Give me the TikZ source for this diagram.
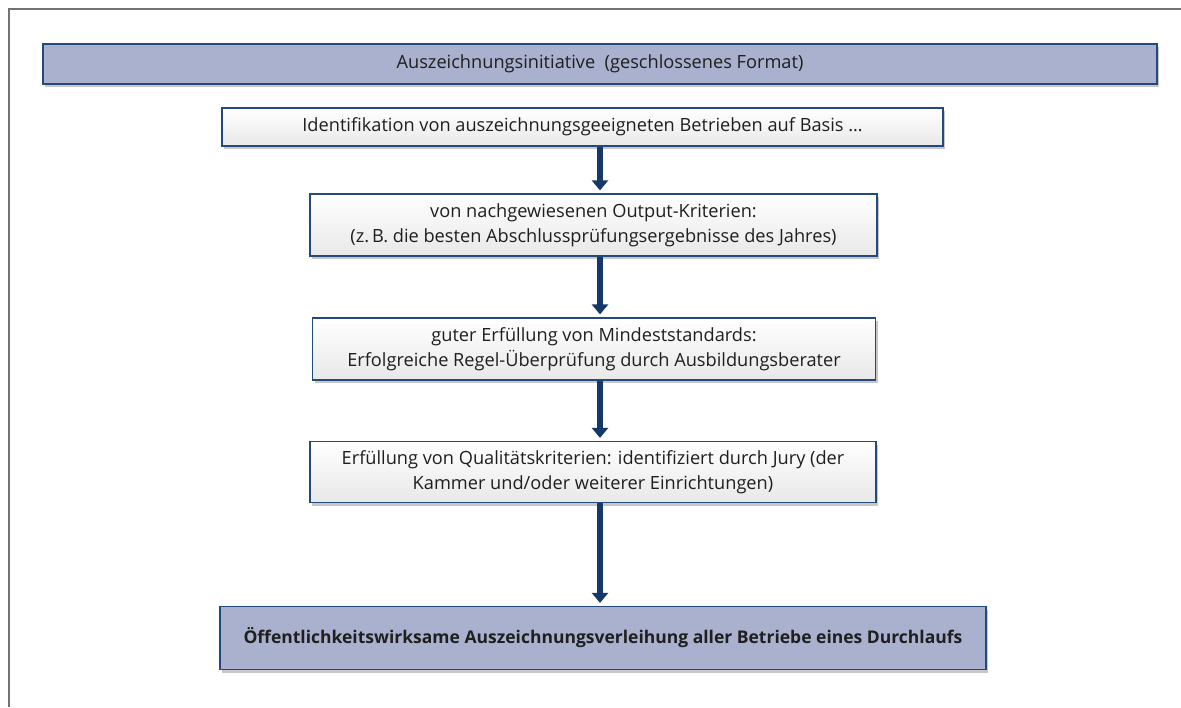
\documentclass[tikz,border=0pt]{standalone}
\usepackage{fontspec}
\setmainfont{Open Sans}
\usetikzlibrary{shadows,arrows.meta}
\definecolor{boxblue}{RGB}{170,177,206}
\definecolor{edgeblue}{RGB}{36,74,124}
\definecolor{arrowblue}{RGB}{22,56,104}
\begin{document}
\begin{tikzpicture}[x=1pt,y=1pt,
  base/.style={draw=edgeblue, line width=1.2pt, inner sep=0pt, align=center,
    font=\fontsize{18.2}{25}\selectfont, text=black!88,
    drop shadow={shadow xshift=2pt, shadow yshift=-3pt, opacity=0.22, fill=black}},
  bluebox/.style={base, fill=boxblue},
  greybox/.style={base, top color=white, bottom color=black!9},
  arr/.style={draw=arrowblue, line width=6.5pt, -{Triangle[width=16pt,length=10pt]}, shorten >=3pt}]
\useasboundingbox (0,0) rectangle (1181,-707);
\fill[white] (0,0) rectangle (1181,-707);
\draw[black!55, line width=1.6pt] (9,-707) -- (9,-9) -- (1181,-9);
\coordinate (ax) at (600,0);
\node[bluebox, minimum width=1114pt, minimum height=40pt] (top) at (600,-64)
  {Auszeichnungsinitiative\ \ (geschlossenes Format)};
\node[greybox, minimum width=721pt, minimum height=38pt] (b1) at (582.5,-127)
  {Identifikation von auszeichnungsgeeigneten Betrieben auf Basis …};
\node[greybox, minimum width=567pt, minimum height=62pt] (b2) at (593.5,-225)
  {von nachgewiesenen Output-Kriterien:\\(z.\,B. die besten Abschlussprüfungsergebnisse des Jahres)};
\node[greybox, minimum width=563pt, minimum height=62pt] (b3) at (594,-349)
  {guter Erfüllung von Mindeststandards:\\Erfolgreiche Regel-Überprüfung durch Ausbildungsberater};
\node[greybox, minimum width=566pt, minimum height=61pt] (b4) at (593,-472)
  {Erfüllung von Qualitätskriterien: identifiziert durch Jury (der\\Kammer und/oder weiterer Einrichtungen)};
\node[bluebox, minimum width=766pt, minimum height=63pt, font=\fontsize{17.5}{25}\selectfont\bfseries] (b5) at (603,-638)
  {Öffentlichkeitswirksame Auszeichnungsverleihung aller Betriebe eines Durchlaufs};
\draw[arr] (b1.south -| ax) -- (b2.north -| ax);
\draw[arr] (b2.south -| ax) -- (b3.north -| ax);
\draw[arr] (b3.south -| ax) -- (b4.north -| ax);
\draw[arr] (b4.south -| ax) -- (b5.north -| ax);
\end{tikzpicture}
\end{document}
